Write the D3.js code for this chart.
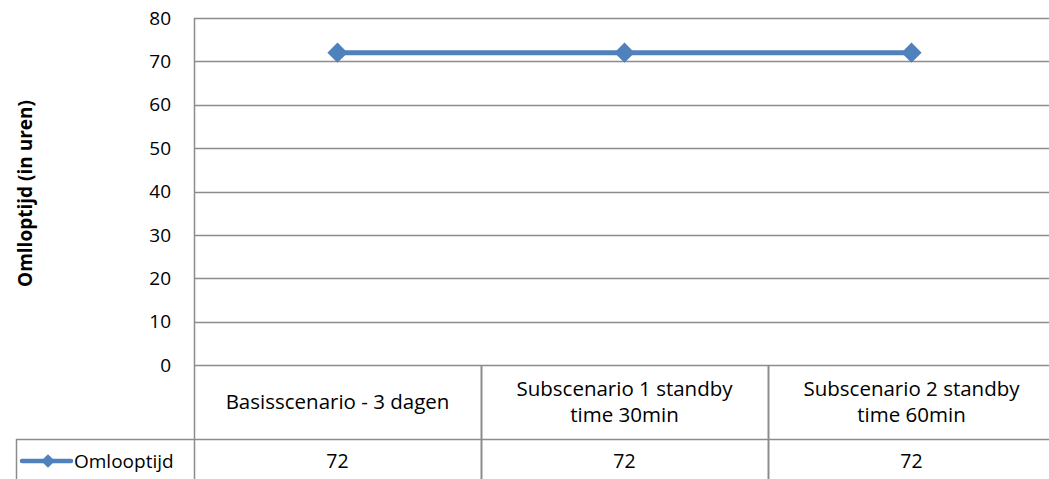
<!DOCTYPE html>
<html>
<head>
<meta charset="utf-8">
<script src="https://cdn.jsdelivr.net/npm/d3@7"></script>
<style>
  html, body { margin: 0; padding: 0; background: #fff; }
  svg { display: block; font-family: "Open Sans", "Liberation Sans", sans-serif; }
</style>
</head>
<body>
<svg id="chart" width="1049" height="479"></svg>
<script>
// Scenario categories (multi-line labels split on "\n")
const categories = [
  "Basisscenario - 3 dagen",
  "Subscenario 1 standby\ntime 30min",
  "Subscenario 2 standby\ntime 60min"
];
const seriesName = "Omlooptijd";
const omlooptijd = [72, 72, 72];
const yTicks = [0, 10, 20, 30, 40, 50, 60, 70, 80];
const yTitle = "Omlloptijd (in uren)";

const svg = d3.select("#chart");
const plot = { left: 194, right: 1055, top: 18, bottom: 365 };
const table = { left: 16, catBottom: 439, rowBottom: 490 };
const lineColor = "#4F81BD";
const gridColor = "#8c8c8c";

const x = d3.scaleBand().domain(categories).range([plot.left, plot.right]);
const y = d3.scaleLinear().domain([0, 80]).range([plot.bottom, plot.top]);

// Horizontal gridlines
svg.append("g").selectAll("line").data(yTicks.filter(d => d > 0)).join("line")
  .attr("x1", plot.left).attr("x2", plot.right)
  .attr("y1", d => Math.round(y(d)) + 0.5).attr("y2", d => Math.round(y(d)) + 0.5)
  .attr("stroke", gridColor).attr("stroke-width", 1.3);

// Y axis line and tick labels
svg.append("line")
  .attr("x1", plot.left + 0.5).attr("x2", plot.left + 0.5)
  .attr("y1", plot.top).attr("y2", table.rowBottom)
  .attr("stroke", gridColor).attr("stroke-width", 1.5);

svg.append("g").selectAll("text").data(yTicks).join("text")
  .attr("x", 171).attr("y", d => y(d))
  .attr("dy", "0.35em")
  .attr("text-anchor", "end")
  .attr("font-size", 19).attr("fill", "#000")
  .text(d => d);

// Y axis title
svg.append("text")
  .attr("transform", `translate(25,${(plot.top + plot.bottom) / 2 + 2}) rotate(-90)`)
  .attr("text-anchor", "middle")
  .attr("dy", "0.35em")
  .attr("font-size", 19).attr("font-weight", "bold")
  .text(yTitle);

// Data table: horizontal rules
const tbl = svg.append("g").attr("stroke", gridColor).attr("stroke-width", 1.5);
tbl.append("line").attr("x1", plot.left).attr("x2", plot.right)
  .attr("y1", plot.bottom + 0.5).attr("y2", plot.bottom + 0.5);
tbl.append("line").attr("x1", table.left).attr("x2", plot.right)
  .attr("y1", table.catBottom + 0.5).attr("y2", table.catBottom + 0.5);
tbl.append("line").attr("x1", table.left + 0.5).attr("x2", table.left + 0.5)
  .attr("y1", table.catBottom).attr("y2", table.rowBottom);

// Data table: column separators
tbl.selectAll("line.sep").data(categories.slice(1)).join("line")
  .attr("class", "sep")
  .attr("x1", d => Math.round(x(d)) + 0.5).attr("x2", d => Math.round(x(d)) + 0.5)
  .attr("y1", plot.bottom).attr("y2", table.rowBottom)
  .attr("stroke-width", 2);

// Category labels
const catText = svg.append("g").selectAll("text").data(categories).join("text")
  .attr("text-anchor", "middle")
  .attr("font-size", 20.5)
  .attr("x", d => x(d) + x.bandwidth() / 2)
  .attr("y", d => {
    const n = d.split("\n").length;
    return (plot.bottom + table.catBottom) / 2 - (n - 1) * 13;
  });
catText.each(function(d) {
  d3.select(this).selectAll("tspan").data(d.split("\n")).join("tspan")
    .attr("x", x(d) + x.bandwidth() / 2)
    .attr("dy", (t, i) => i === 0 ? "0.35em" : "26px")
    .text(t => t);
});

// Value row
const rowMid = 461;
svg.append("g").selectAll("text").data(omlooptijd).join("text")
  .attr("x", (d, i) => x(categories[i]) + x.bandwidth() / 2)
  .attr("y", rowMid).attr("dy", "0.35em")
  .attr("text-anchor", "middle").attr("font-size", 19.5)
  .text(d => d);

// Legend key inside the table
const diamond = d3.symbol().type(d3.symbolDiamond2);
const legend = svg.append("g");
legend.append("line")
  .attr("x1", 22).attr("x2", 71).attr("y1", rowMid).attr("y2", rowMid)
  .attr("stroke", lineColor).attr("stroke-width", 4.5).attr("stroke-linecap", "round");
legend.append("path")
  .attr("d", diamond.size(120)())
  .attr("transform", `translate(48,${rowMid})`)
  .attr("fill", lineColor);
legend.append("text")
  .attr("x", 74).attr("y", rowMid).attr("dy", "0.35em")
  .attr("font-size", 19)
  .text(seriesName);

// Series line and markers
const line = d3.line()
  .x((d, i) => x(categories[i]) + x.bandwidth() / 2)
  .y(d => y(d));
svg.append("path")
  .datum(omlooptijd)
  .attr("d", line)
  .attr("fill", "none")
  .attr("stroke", lineColor)
  .attr("stroke-width", 5);

svg.append("g").selectAll("path").data(omlooptijd).join("path")
  .attr("d", diamond.size(260)())
  .attr("transform", (d, i) => `translate(${x(categories[i]) + x.bandwidth() / 2},${y(d)})`)
  .attr("fill", lineColor);
</script>
</body>
</html>
